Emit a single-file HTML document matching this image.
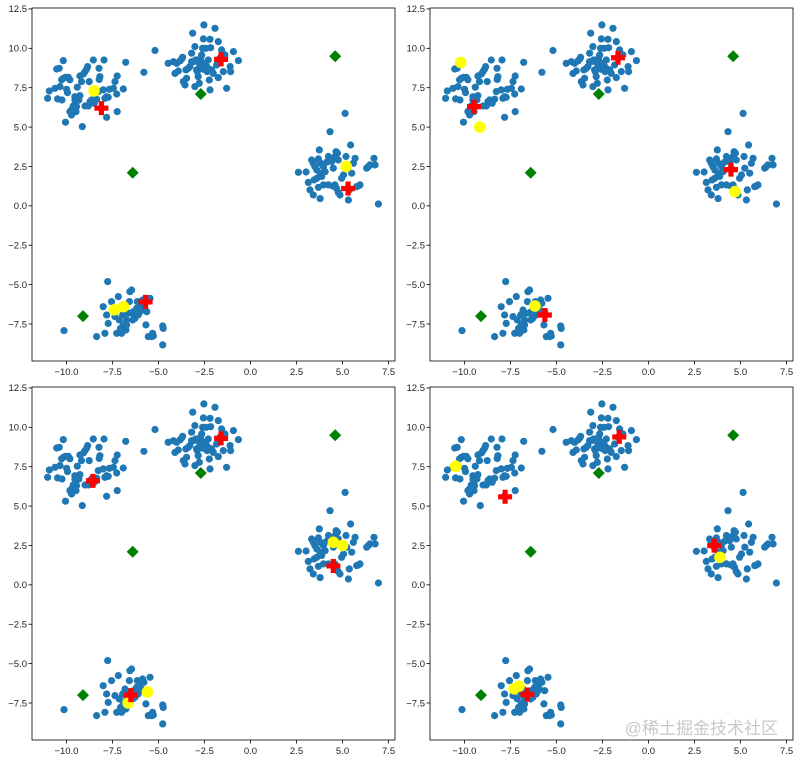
<!DOCTYPE html>
<html><head><meta charset="utf-8"><style>
body{margin:0;background:#fff;}
svg{display:block;font-family:"Liberation Sans","DejaVu Sans",sans-serif;}
</style></head><body>
<svg id="chart" width="800" height="760" viewBox="0 0 800 760" xmlns="http://www.w3.org/2000/svg">
<rect width="800" height="760" fill="#fff"/>
<text x="778" y="734" text-anchor="end" font-size="17" fill="#c8c8c8" font-family="'Liberation Sans','Noto Sans CJK SC',sans-serif">@稀土掘金技术社区</text>
</svg>
<script>
const pointsX = [-11.02,-10.93,-10.62,-10.53,-10.39,-10.48,-10.17,-10.26,-10.17,-10.05,-9.90,-9.81,-9.94,-9.99,-10.05,-9.81,-9.72,-9.63,-9.54,-9.54,-9.45,-9.45,-9.48,-9.32,-9.27,-9.41,-9.18,-9.27,-9.08,-8.99,-8.90,-8.85,-9.14,-8.99,-8.81,-8.72,-8.63,-8.76,-8.54,-8.49,-8.36,-8.27,-8.22,-8.23,-7.96,-8.0,-7.91,-7.82,-7.73,-7.82,-7.67,-7.45,-7.36,-7.27,-7.24,-7.24,-6.91,-6.78,-8.18,-9.59,-9.72,-10.24,-10.35,
-5.19,-5.79,-4.47,-4.19,-4.10,-4.01,-3.92,-3.83,-3.74,-3.65,-3.69,-3.56,-3.47,-3.51,-3.38,-3.29,-3.20,-3.14,-3.11,-3.02,-2.98,-2.93,-2.89,-2.84,-2.78,-2.74,-2.71,-2.65,-2.60,-2.56,-2.53,-2.49,-2.42,-2.38,-2.35,-2.31,-2.29,-2.24,-2.20,-2.20,-2.17,-2.11,-2.02,-1.93,-1.84,-1.75,-1.75,-1.66,-1.57,-1.48,-1.39,-1.30,-1.11,-1.08,-0.93,-0.66,-3.02,-3.20,-2.78,-2.56,
2.60,3.02,3.14,3.23,3.41,3.69,3.78,3.32,3.41,3.50,3.60,3.69,3.74,3.78,3.87,3.81,3.96,4.05,4.14,4.23,4.32,4.41,4.50,4.59,4.65,4.72,4.77,4.59,4.68,4.77,4.86,4.95,5.05,5.14,5.19,5.23,5.32,5.37,5.44,5.50,5.59,5.68,5.77,5.86,5.95,6.31,6.40,6.49,6.71,6.77,6.95,3.96,4.23,4.47,3.60,3.45,
-10.13,-8.36,-7.91,-7.76,-8.0,-7.82,-7.73,-7.55,-7.36,-7.27,-7.18,-7.13,-7.06,-6.95,-6.91,-6.82,-6.77,-6.73,-6.64,-6.58,-6.55,-6.46,-6.40,-6.37,-6.33,-6.28,-6.19,-6.15,-6.10,-6.04,-6.0,-5.92,-5.86,-5.79,-5.68,-5.64,-5.55,-5.46,-5.37,-5.32,-5.28,-4.77,-4.74,-4.77,-7.0,-6.73];
const pointsY = [6.83,7.29,7.46,8.69,8.73,6.79,9.22,8.0,8.10,8.16,8.16,8.0,7.19,7.40,5.31,5.98,6.09,6.34,6.93,6.72,6.62,6.30,5.98,6.72,7.0,7.53,7.89,8.24,8.37,8.52,8.69,8.84,5.03,6.34,6.34,6.62,6.72,7.89,9.26,6.51,6.77,7.25,8.03,8.73,9.26,7.36,6.83,6.93,6.89,5.62,7.40,7.46,7.89,7.10,8.24,5.98,7.42,9.11,8.20,6.09,5.77,6.72,7.57,
9.86,8.48,9.05,9.15,8.41,9.05,8.56,9.20,9.32,7.89,9.43,7.67,8.10,8.63,8.73,8.84,9.69,10.96,9.15,10.11,9.26,8.63,8.52,8.20,7.78,8.84,9.37,9.58,10.0,10.6,11.49,9.05,10.0,8.84,8.52,8.73,9.26,7.99,7.36,10.57,10.04,8.63,8.41,11.27,8.94,10.43,8.14,9.37,9.90,8.52,9.58,7.46,8.84,8.52,9.79,9.22,7.57,9.15,9.05,8.67,
2.13,2.15,1.49,1.01,0.69,1.18,0.46,2.91,2.70,2.49,2.28,2.98,3.55,2.07,1.86,2.70,2.49,2.17,2.77,3.13,4.71,2.81,2.39,3.13,3.44,3.34,2.91,1.33,1.11,0.84,0.69,1.75,1.96,5.87,3.13,2.39,0.37,1.01,3.86,2.07,2.70,3.02,1.22,1.26,1.33,2.39,2.49,2.60,3.02,2.60,0.12,1.33,1.33,1.26,1.75,1.64,
-7.92,-8.30,-8.09,-4.81,-6.40,-6.93,-7.46,-6.08,-7.03,-8.09,-5.76,-7.25,-7.78,-6.93,-7.56,-6.61,-7.88,-7.25,-6.82,-6.08,-5.45,-5.34,-7.25,-6.72,-6.93,-7.14,-6.51,-6.08,-6.93,-6.30,-6.72,-6.61,-5.98,-6.19,-7.56,-6.72,-8.30,-5.87,-8.30,-8.09,-8.26,-7.63,-7.78,-8.83,-8.09,-7.56];
const initX = [-9.1,-6.4,-2.7,4.6];
const initY = [-7.0,2.1,7.1,9.5];
const centerX = [[-8.1,-1.6,5.3,-5.7],[-9.48,-1.66,4.48,-5.63],[-8.56,-1.6,4.5,-6.5],[-7.79,-1.59,3.57,-6.58]];
const centerY = [[6.2,9.3,1.1,-6.1],[6.3,9.4,2.3,-6.93],[6.6,9.3,1.2,-7.0],[5.59,9.39,2.49,-6.96]];
const yellowX = [[-8.5,5.2,-7.4,-6.9],[-10.2,-9.16,4.7,-6.17],[4.5,5.0,-6.65,-5.6],[-10.47,3.88,-7.3,-7.03]];
const yellowY = [[7.3,2.5,-6.6,-6.4],[9.1,5.0,0.9,-6.36],[2.7,2.5,-7.5,-6.8],[7.53,1.75,-6.6,-6.43]];
const xTicks = [-10,-7.5,-5,-2.5,0,2.5,5,7.5];
const yTicks = [-7.5,-5,-2.5,0,2.5,5,7.5,10,12.5];
const xTickLabels = ["−10.0","−7.5","−5.0","−2.5","0.0","2.5","5.0","7.5"];
const yTickLabels = ["−7.5","−5.0","−2.5","0.0","2.5","5.0","7.5","10.0","12.5"];

const NS="http://www.w3.org/2000/svg";
const svg=document.getElementById('chart');
const wm=svg.querySelector('text');
const offsets=[[0,0],[398,0],[0,379],[398,379]];
const L=32,R=395,T=8,B=361;
const xmin=-11.87,xmax=7.85,ymin=-9.85,ymax=12.56;
function mk(tag,attrs,parent){const e=document.createElementNS(NS,tag);for(const k in attrs)e.setAttribute(k,attrs[k]);parent.appendChild(e);return e;}
offsets.forEach((o,p)=>{
  const sx=v=>o[0]+L+(v-xmin)/(xmax-xmin)*(R-L);
  const sy=v=>o[1]+T+(ymax-v)/(ymax-ymin)*(B-T);
  const g=mk('g',{},svg);
  
  
  for(let i=0;i<pointsX.length;i++){
    const c=mk('circle',{cx:sx(pointsX[i]).toFixed(1),cy:sy(pointsY[i]).toFixed(1),r:3.6,fill:'#1f77b4'},g);
    
    
  }
  for(let i=0;i<initX.length;i++){
    const x=sx(initX[i]),y=sy(initY[i]),s=6;
    const d=mk('polygon',{points:`${x},${y-s} ${x+s},${y} ${x},${y+s} ${x-s},${y}`,fill:'#008000'},g);
    
    
  }
  for(let i=0;i<yellowX[p].length;i++){
    const c=mk('circle',{cx:sx(yellowX[p][i]),cy:sy(yellowY[p][i]),r:5.8,fill:'#ffff00'},g);
    
    
  }
  for(let i=0;i<centerX[p].length;i++){
    const x=sx(centerX[p][i]),y=sy(centerY[p][i]),a=7,b=2.6;
    const pl=mk('path',{d:`M${x-b},${y-a}H${x+b}V${y-b}H${x+a}V${y+b}H${x+b}V${y+a}H${x-b}V${y+b}H${x-a}V${y-b}H${x-b}Z`,fill:'#ff0000'},g);
    
    
  }
  const fr=mk('rect',{x:o[0]+L,y:o[1]+T,width:R-L,height:B-T,fill:'none',stroke:'#000','stroke-width':0.8},g);
  
  
  xTicks.forEach((t,i)=>{
    const x=sx(t);
    mk('line',{x1:x,x2:x,y1:o[1]+B,y2:o[1]+B+3.5,stroke:'#000','stroke-width':0.8},g);
    const tx=mk('text',{x:x,y:o[1]+B+14,'text-anchor':'middle','font-size':9.5,fill:'#222'},g);
    tx.textContent=xTickLabels[i];
    
    
  });
  yTicks.forEach((t,i)=>{
    const y=sy(t);
    mk('line',{x1:o[0]+L-3.5,x2:o[0]+L,y1:y,y2:y,stroke:'#000','stroke-width':0.8},g);
    const tx=mk('text',{x:o[0]+L-5,y:y+3.3,'text-anchor':'end','font-size':9.5,fill:'#222'},g);
    tx.textContent=yTickLabels[i];
    
    
  });
});
svg.appendChild(wm);
</script>
</body></html>
